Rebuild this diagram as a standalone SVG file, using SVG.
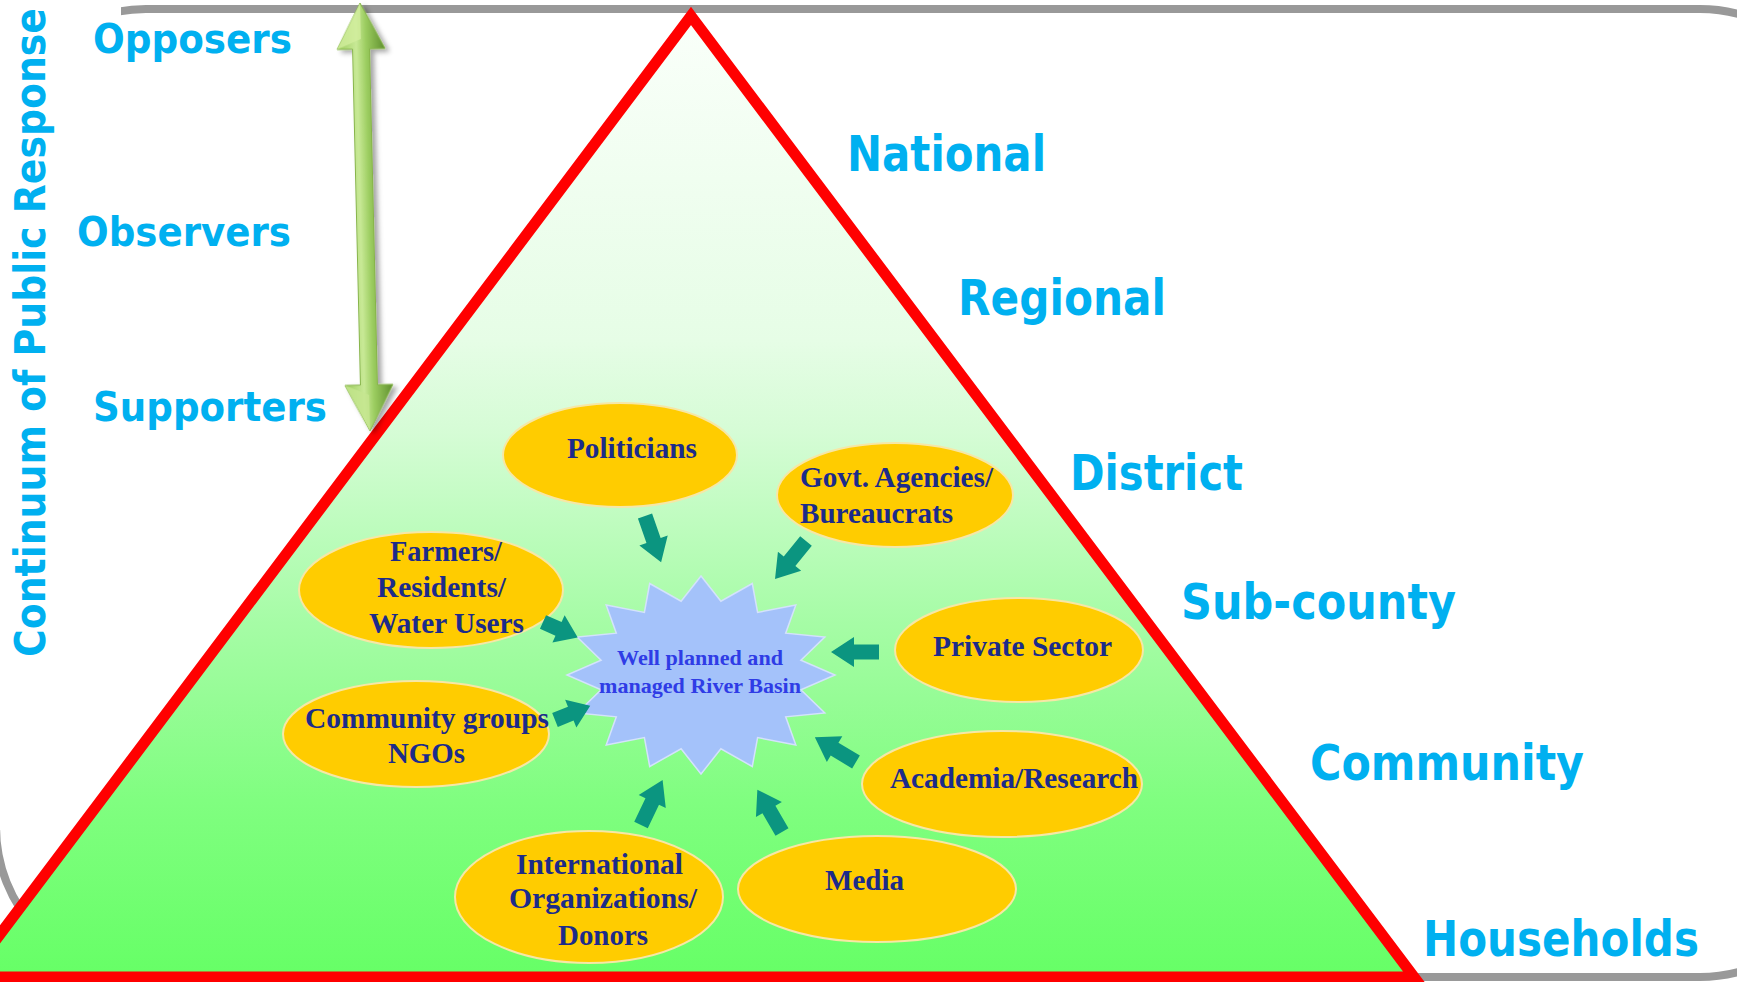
<svg xmlns="http://www.w3.org/2000/svg" width="1737" height="982" viewBox="0 0 1737 982">
<defs>
<style>
.lbl{font-family:"DejaVu Sans","Verdana",sans-serif;font-weight:bold;fill:#00b0f0;}
.big{font-size:50px;}
.mid{font-size:41px;}
.nd{fill:#ffcc00;stroke:#f6e7a6;stroke-width:2;}
.nt{font-family:"Liberation Serif","Times New Roman",serif;font-weight:bold;font-size:29px;fill:#1c2b8a;}
.st{font-family:"Liberation Serif","Times New Roman",serif;font-weight:bold;font-size:21px;fill:#2f3ce6;}
.arr{fill:#0b9580;}
</style>
<linearGradient id="pyr" x1="0" y1="16" x2="0" y2="977" gradientUnits="userSpaceOnUse">
<stop offset="0" stop-color="#fafffa"/>
<stop offset="0.337" stop-color="#e6fde6"/>
<stop offset="0.43" stop-color="#d6fcd6"/>
<stop offset="0.63" stop-color="#a6fca6"/>
<stop offset="0.71" stop-color="#96fc96"/>
<stop offset="0.816" stop-color="#80fe80"/>
<stop offset="1" stop-color="#66ff66"/>
</linearGradient>
<linearGradient id="garr" x1="-24" y1="0" x2="24" y2="0" gradientUnits="userSpaceOnUse">
<stop offset="0" stop-color="#9acb5c"/>
<stop offset="0.4" stop-color="#c8e996"/>
<stop offset="0.6" stop-color="#9ccd60"/>
<stop offset="1" stop-color="#5f8f2e"/>
</linearGradient>
<filter id="sh" x="-50%" y="-10%" width="200%" height="120%">
<feDropShadow dx="4" dy="3" stdDeviation="2.5" flood-color="#000" flood-opacity="0.35"/>
</filter>
</defs>

<g id="frame">
<rect x="-4" y="9" width="1854" height="968" rx="150" ry="150" fill="#ffffff" stroke="#999999" stroke-width="8"/>
<rect x="-10" y="0" width="131" height="830" fill="#ffffff"/>
</g>

<g id="pyramid">
<polygon points="691,16 1414,977 -32,977" fill="url(#pyr)" stroke="#ff0000" stroke-width="11" stroke-linejoin="miter" stroke-miterlimit="10"/>
</g>

<g id="continuum-arrow" transform="translate(360,3) rotate(-1.34)" filter="url(#sh)">
<path d="M0,0 L24,46 L8.5,46 L8.5,382 L24,382 L0,428 L-24,382 L-8.5,382 L-8.5,46 L-24,46 Z" fill="url(#garr)" stroke="#86b44a" stroke-width="1"/>
<path d="M0,0 L-24,46 L0,36 Z" fill="#d2ee9e" opacity="0.8"/>
<path d="M0,428 L-24,382 L0,392 Z" fill="#c6e690" opacity="0.8"/>
</g>

<g id="continuum-labels">
<text class="lbl" font-size="42" transform="translate(45,657) rotate(-90)" textLength="649" lengthAdjust="spacingAndGlyphs">Continuum of Public Response</text>
<text class="lbl mid" x="93" y="53" textLength="199" lengthAdjust="spacingAndGlyphs">Opposers</text>
<text class="lbl mid" x="77" y="246" textLength="214" lengthAdjust="spacingAndGlyphs">Observers</text>
<text class="lbl mid" x="93" y="421" textLength="234" lengthAdjust="spacingAndGlyphs">Supporters</text>
</g>

<g id="level-labels">
<text class="lbl big" x="847" y="171" textLength="199" lengthAdjust="spacingAndGlyphs">National</text>
<text class="lbl big" x="958" y="315" textLength="208" lengthAdjust="spacingAndGlyphs">Regional</text>
<text class="lbl big" x="1070" y="490" textLength="173" lengthAdjust="spacingAndGlyphs">District</text>
<text class="lbl big" x="1181" y="619" textLength="275" lengthAdjust="spacingAndGlyphs">Sub-county</text>
<text class="lbl big" x="1310" y="780" textLength="274" lengthAdjust="spacingAndGlyphs">Community</text>
<text class="lbl big" x="1423" y="956" textLength="276" lengthAdjust="spacingAndGlyphs">Households</text>
</g>

<g id="hub">
<polygon points="701,576 720.9,601.2 752.3,583.5 757.6,612.4 795.8,605 785.7,633.2 824.8,637.1 800.9,660.3 835,675 800.9,689.7 824.8,712.9 785.7,716.8 795.8,745 757.6,737.6 752.3,766.5 720.9,748.8 701,774 681.1,748.8 649.7,766.5 644.4,737.6 606.2,745 616.3,716.8 577.2,712.9 601.1,689.7 567,675 601.1,660.3 577.2,637.1 616.3,633.2 606.2,605 644.4,612.4 649.7,583.5 681.1,601.2" fill="#a4c2fa" stroke="#d4e2fc" stroke-width="1.5"/>
<text class="st" x="617" y="665" textLength="166" lengthAdjust="spacingAndGlyphs">Well planned and</text>
<text class="st" x="599" y="693" textLength="202" lengthAdjust="spacingAndGlyphs">managed River Basin</text>
</g>

<g id="node-politicians">
<ellipse class="nd" cx="620" cy="455" rx="117" ry="52"/>
<text class="nt" x="567" y="458" textLength="130" lengthAdjust="spacingAndGlyphs">Politicians</text>
</g>
<g id="node-govt">
<ellipse class="nd" cx="895" cy="495" rx="118" ry="52"/>
<text class="nt" x="800" y="487" textLength="193" lengthAdjust="spacingAndGlyphs">Govt. Agencies/</text>
<text class="nt" x="800" y="523" textLength="153" lengthAdjust="spacingAndGlyphs">Bureaucrats</text>
</g>
<g id="node-farmers">
<ellipse class="nd" cx="431" cy="590" rx="132" ry="58"/>
<text class="nt" x="390" y="561" textLength="112" lengthAdjust="spacingAndGlyphs">Farmers/</text>
<text class="nt" x="377" y="597" textLength="129" lengthAdjust="spacingAndGlyphs">Residents/</text>
<text class="nt" x="369" y="633" textLength="155" lengthAdjust="spacingAndGlyphs">Water Users</text>
</g>
<g id="node-community">
<ellipse class="nd" cx="416" cy="734" rx="133" ry="53"/>
<text class="nt" x="305" y="728" textLength="244" lengthAdjust="spacingAndGlyphs">Community groups</text>
<text class="nt" x="388" y="763" textLength="77" lengthAdjust="spacingAndGlyphs">NGOs</text>
</g>
<g id="node-private">
<ellipse class="nd" cx="1019" cy="650" rx="124" ry="52"/>
<text class="nt" x="933" y="656" textLength="179" lengthAdjust="spacingAndGlyphs">Private Sector</text>
</g>
<g id="node-academia">
<ellipse class="nd" cx="1002" cy="784" rx="140" ry="53"/>
<text class="nt" x="890" y="788" textLength="248" lengthAdjust="spacingAndGlyphs">Academia/Research</text>
</g>
<g id="node-international">
<ellipse class="nd" cx="589" cy="897" rx="134" ry="66"/>
<text class="nt" x="516" y="874" textLength="167" lengthAdjust="spacingAndGlyphs">International</text>
<text class="nt" x="509" y="908" textLength="188" lengthAdjust="spacingAndGlyphs">Organizations/</text>
<text class="nt" x="558" y="945" textLength="90" lengthAdjust="spacingAndGlyphs">Donors</text>
</g>
<g id="node-media">
<ellipse class="nd" cx="877" cy="889" rx="139" ry="53"/>
<text class="nt" x="825" y="890" textLength="79" lengthAdjust="spacingAndGlyphs">Media</text>
</g>

<g id="connectors">
<path class="arr" transform="translate(645,516) rotate(70.8)" d="M0,-7.5 H26 V-15 L49,0 L26,15 V7.5 H0 Z"/>
<path class="arr" transform="translate(806,541) rotate(129.2)" d="M0,-7.5 H26 V-15 L49,0 L26,15 V7.5 H0 Z"/>
<path class="arr" transform="translate(543,622) rotate(24)" d="M0,-7.5 H17 V-15 L38,0 L17,15 V7.5 H0 Z"/>
<path class="arr" transform="translate(555,720) rotate(-22)" d="M0,-7.5 H17 V-15 L38,0 L17,15 V7.5 H0 Z"/>
<path class="arr" transform="translate(879,652) rotate(180)" d="M0,-7.5 H25 V-15 L48,0 L25,15 V7.5 H0 Z"/>
<path class="arr" transform="translate(856,762) rotate(211)" d="M0,-7.5 H25 V-15 L48,0 L25,15 V7.5 H0 Z"/>
<path class="arr" transform="translate(782,832) rotate(-120.2)" d="M0,-7.5 H26 V-15 L49,0 L26,15 V7.5 H0 Z"/>
<path class="arr" transform="translate(641,825) rotate(-64.4)" d="M0,-7.5 H26 V-15 L50,0 L26,15 V7.5 H0 Z"/>
</g>
</svg>
